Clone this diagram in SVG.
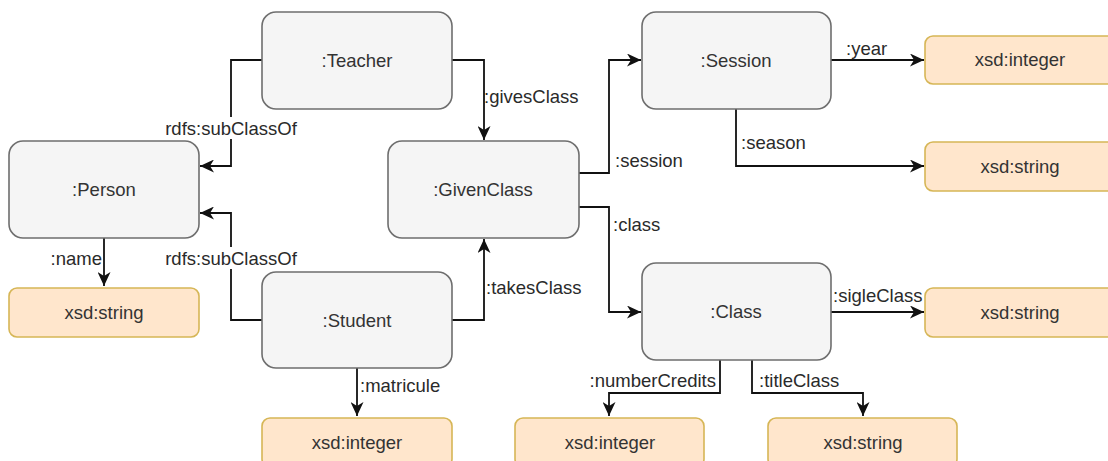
<svg xmlns="http://www.w3.org/2000/svg" width="1108" height="461" viewBox="0 0 1108 461">
<style>
.cls rect{fill:#f5f5f5;stroke:#6e6e6e;stroke-width:1.6}
.dt rect{fill:#ffe6cc;stroke:#d6b656;stroke-width:1.6}
text{font-family:"Liberation Sans",Arial,sans-serif;font-size:18.5px;fill:#333333}
.nt{text-anchor:middle}
.lbl{fill:#2a2a2a}
.conn path{fill:none;stroke:#111111;stroke-width:1.8}
</style>
<defs>
<marker id="arr" markerUnits="userSpaceOnUse" markerWidth="15" markerHeight="13" viewBox="0 0 15 13" refX="14" refY="6.5" orient="auto">
<path d="M0,0 L14,6.5 L0,13 L4,6.5 Z" fill="#111111"/>
</marker>
</defs>
<rect width="1108" height="461" fill="#ffffff"/>

<g id="connectors" class="conn">
<path d="M262,60 H231 V166 H200" marker-end="url(#arr)"/>
<path d="M262,320 H231 V213 H200" marker-end="url(#arr)"/>
<path d="M104,238 V286" marker-end="url(#arr)"/>
<path d="M452,60 H484 V140" marker-end="url(#arr)"/>
<path d="M452,320 H484 V239" marker-end="url(#arr)"/>
<path d="M579,173 H609 V60 H641" marker-end="url(#arr)"/>
<path d="M579,207 H609 V312 H641" marker-end="url(#arr)"/>
<path d="M831,60 H924" marker-end="url(#arr)"/>
<path d="M736,109 V166 H924" marker-end="url(#arr)"/>
<path d="M831,312 H924" marker-end="url(#arr)"/>
<path d="M720,360 V393 H609 V416" marker-end="url(#arr)"/>
<path d="M752,360 V393 H863 V416" marker-end="url(#arr)"/>
<path d="M357,368 V416" marker-end="url(#arr)"/>
<g id="labels">
<rect x="162" y="117" width="138" height="22" fill="#ffffff"/>
<text class="lbl" x="231" y="135" text-anchor="middle">rdfs:subClassOf</text>
<rect x="162" y="247" width="138" height="22" fill="#ffffff"/>
<text class="lbl" x="231" y="265" text-anchor="middle">rdfs:subClassOf</text>
<text class="lbl" x="102" y="265" text-anchor="end">:name</text>
<text class="lbl" x="484" y="103">:givesClass</text>
<text class="lbl" x="486" y="294">:takesClass</text>
<text class="lbl" x="615" y="167">:session</text>
<text class="lbl" x="613" y="231">:class</text>
<text class="lbl" x="846" y="55">:year</text>
<text class="lbl" x="741" y="149">:season</text>
<text class="lbl" x="833" y="302">:sigleClass</text>
<text class="lbl" x="716" y="387" text-anchor="end">:numberCredits</text>
<text class="lbl" x="759" y="387">:titleClass</text>
<text class="lbl" x="360" y="392">:matricule</text>
</g>
</g>

<g id="teacher" class="cls"><rect x="262" y="12" width="190" height="97" rx="14"/><text class="nt" x="357" y="67">:Teacher</text></g>
<g id="person" class="cls"><rect x="9" y="141" width="190" height="97" rx="14"/><text class="nt" x="104" y="196">:Person</text></g>
<g id="givenclass" class="cls"><rect x="388" y="141" width="191" height="97" rx="14"/><text class="nt" x="483" y="196">:GivenClass</text></g>
<g id="session" class="cls"><rect x="642" y="12" width="189" height="97" rx="14"/><text class="nt" x="736" y="67">:Session</text></g>
<g id="student" class="cls"><rect x="262" y="272" width="190" height="96" rx="14"/><text class="nt" x="357" y="327">:Student</text></g>
<g id="class" class="cls"><rect x="642" y="263" width="189" height="97" rx="14"/><text class="nt" x="736" y="318">:Class</text></g>

<g id="dt-year" class="dt"><rect x="925" y="36" width="190" height="48" rx="8"/><text class="nt" x="1020" y="66">xsd:integer</text></g>
<g id="dt-season" class="dt"><rect x="925" y="142" width="190" height="49" rx="8"/><text class="nt" x="1020" y="173">xsd:string</text></g>
<g id="dt-sigle" class="dt"><rect x="925" y="288" width="190" height="49" rx="8"/><text class="nt" x="1020" y="319">xsd:string</text></g>
<g id="dt-name" class="dt"><rect x="9" y="288" width="190" height="49" rx="8"/><text class="nt" x="104" y="319">xsd:string</text></g>
<g id="dt-matricule" class="dt"><rect x="262" y="418" width="190" height="49" rx="8"/><text class="nt" x="357" y="449">xsd:integer</text></g>
<g id="dt-credits" class="dt"><rect x="515" y="418" width="189" height="49" rx="8"/><text class="nt" x="610" y="449">xsd:integer</text></g>
<g id="dt-title" class="dt"><rect x="768" y="418" width="189" height="49" rx="8"/><text class="nt" x="863" y="449">xsd:string</text></g>
</svg>
